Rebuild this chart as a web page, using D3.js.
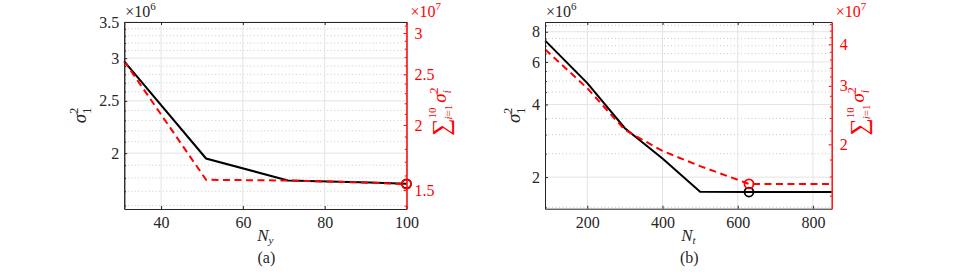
<!DOCTYPE html>
<html>
<head>
<meta charset="utf-8">
<script src="https://cdn.jsdelivr.net/npm/d3@7"></script>
<style>
  body { margin: 0; background: #fff; }
  svg text { font-family: "Liberation Serif", "DejaVu Serif", serif !important; }
</style>
</head>
<body>
<svg id="fig" width="955" height="272"></svg>
<script>
// ---- data ----
var nyVals = [31, 51, 71, 91, 100];
var sigma1A = [2.96e6, 1.955e6, 1.78e6, 1.765e6, 1.755e6];
var sumSigA = [2.65e7, 1.57e7, 1.565e7, 1.55e7, 1.54e7];
var pickA = 100;

var ntVals = [88, 200, 300, 400, 500, 630, 850];
var sigma1B = [7.35e6, 4.9e6, 3.19e6, 2.39e6, 1.74e6, 1.735e6, 1.735e6];
var sumSigB = [3.86e7, 2.95e7, 2.21e7, 1.91e7, 1.72e7, 1.52e7, 1.52e7];
var pickB = 630;

var xTicksA = [40, 60, 80, 100];
var yLTicksA = [2e6, 2.5e6, 3e6, 3.5e6];
var yRTicksA = [1.5e7, 2e7, 2.5e7, 3e7];
var xTicksB = [200, 400, 600, 800];
var yLTicksB = [2e6, 4e6, 6e6, 8e6];
var yRTicksB = [2e7, 3e7, 4e7];

var svg = d3.select("#fig");
var RED = "#ff0000", INK = "#262626";

function drawPanel(p) {
  var x = d3.scaleLinear().domain(p.xDom).range([p.left, p.right]);
  var yL = d3.scaleLog().domain(p.yLDom).range([p.bottom, p.top]);
  var yR = d3.scaleLog().domain(p.yRDom).range([p.bottom, p.top]);
  var g = svg.append("g");

  // grid
  g.selectAll(".gmin").data(p.yLMinor).enter().append("line")
    .attr("x1", p.left).attr("x2", p.right)
    .attr("y1", yL).attr("y2", yL)
    .attr("stroke", "#bdbdbd").attr("stroke-width", 0.8)
    .attr("stroke-dasharray", "1,2.5");
  g.selectAll(".gmaj").data(p.yLTicks).enter().append("line")
    .attr("x1", p.left).attr("x2", p.right)
    .attr("y1", yL).attr("y2", yL)
    .attr("stroke", "#e3e3e3").attr("stroke-width", 1);
  g.selectAll(".gx").data(p.xTicks).enter().append("line")
    .attr("x1", x).attr("x2", x)
    .attr("y1", p.top).attr("y2", p.bottom)
    .attr("stroke", "#e3e3e3").attr("stroke-width", 1);

  // lines
  var idx = d3.range(p.xs.length);
  g.append("path")
    .datum(idx)
    .attr("fill", "none").attr("stroke", "#000").attr("stroke-width", 2)
    .attr("d", d3.line().x(function(i) { return x(p.xs[i]); }).y(function(i) { return yL(p.left1[i]); }));
  g.append("path")
    .datum(idx)
    .attr("fill", "none").attr("stroke", RED).attr("stroke-width", 2)
    .attr("stroke-dasharray", "7,4.5")
    .attr("d", d3.line().x(function(i) { return x(p.xs[i]); }).y(function(i) { return yR(p.right1[i]); }));

  // selected markers
  var k = p.xs.indexOf(p.pick);
  g.append("circle")
    .attr("cx", x(p.pick)).attr("cy", yL(p.left1[k])).attr("r", 4.5)
    .attr("fill", "none").attr("stroke", "#000").attr("stroke-width", 1.8);
  g.append("circle")
    .attr("cx", x(p.pick)).attr("cy", yR(p.right1[k])).attr("r", 4.5)
    .attr("fill", "none").attr("stroke", RED).attr("stroke-width", 1.8);

  // axes
  var fmt = function(s) { return function(d) { return String(+(d / s).toFixed(2)); }; };
  function style(sel, col) {
    sel.attr("font-family", null);
    sel.selectAll("path").attr("stroke", col);
    sel.selectAll("line").attr("stroke", col);
    sel.selectAll("text").attr("fill", col).attr("font-size", 16);
  }

  var bx = g.append("g").attr("transform", "translate(0," + p.bottom + ")")
    .call(d3.axisBottom(x).tickValues(p.xTicks).tickSizeInner(-3).tickSizeOuter(0).tickPadding(8).tickFormat(d3.format("d")));
  style(bx, INK);
  var tx = g.append("g").attr("transform", "translate(0," + p.top + ")")
    .call(d3.axisTop(x).tickValues(p.xTicks).tickSizeInner(-3).tickSizeOuter(0).tickFormat(""));
  style(tx, INK);

  var ly = g.append("g").attr("transform", "translate(" + p.left + ",0)")
    .call(d3.axisLeft(yL).tickValues(p.yLTicks).tickSizeInner(-3).tickSizeOuter(0).tickPadding(5).tickFormat(fmt(1e6)));
  style(ly, INK);
  var lym = g.append("g").attr("transform", "translate(" + p.left + ",0)")
    .call(d3.axisLeft(yL).tickValues(p.yLMinor).tickSizeInner(-1.8).tickSizeOuter(0).tickFormat(""));
  style(lym, INK);

  var ry = g.append("g").attr("transform", "translate(" + p.right + ",0)")
    .call(d3.axisRight(yR).tickValues(p.yRTicks).tickSizeInner(-3).tickSizeOuter(0).tickPadding(8).tickFormat(fmt(1e7)));
  style(ry, RED);
  var rym = g.append("g").attr("transform", "translate(" + p.right + ",0)")
    .call(d3.axisRight(yR).tickValues(p.yRMinor).tickSizeInner(-1.8).tickSizeOuter(0).tickFormat(""));
  style(rym, RED);

  // exponent notes
  var e1 = g.append("text").attr("x", p.left + 1).attr("y", 17).attr("font-size", 16).attr("fill", INK);
  e1.append("tspan").text("\u00d710");
  e1.append("tspan").attr("dy", -7).attr("font-size", 11).text("6");
  var e2 = g.append("text").attr("x", p.right + 4).attr("y", 17).attr("font-size", 16).attr("fill", RED);
  e2.append("tspan").text("\u00d710");
  e2.append("tspan").attr("dy", -7).attr("font-size", 11).text("7");

  // x label and panel tag
  var cx = (p.left + p.right) / 2;
  var xl = g.append("text").attr("x", cx).attr("y", 241).attr("text-anchor", "middle")
    .attr("font-size", 17).attr("fill", INK);
  xl.append("tspan").attr("font-style", "italic").text("N");
  xl.append("tspan").attr("font-style", "italic").attr("font-size", 11).attr("dy", 3).text(p.sub);
  g.append("text").attr("x", cx + 1).attr("y", 263).attr("text-anchor", "middle")
    .attr("font-size", 16).attr("fill", INK).text(p.tag);

  // left y label: sigma_1^2
  var cy = (p.top + p.bottom) / 2;
  var yl = g.append("text").attr("text-anchor", "middle").attr("font-size", 19).attr("fill", INK)
    .attr("transform", "translate(" + p.yLabX + "," + cy + ") rotate(-90)");
  yl.append("tspan").attr("font-style", "italic").text("\u03c3");
  yl.append("tspan").attr("font-size", 12).attr("dy", -8).text("2");
  yl.append("tspan").attr("font-size", 12).attr("dx", -6).attr("dy", 13).text("1");

  // right y label: sum_{i=1}^{10} sigma_i^2
  var yr = g.append("text").attr("text-anchor", "middle").attr("font-size", 19).attr("fill", RED)
    .attr("transform", "translate(" + p.yRLabX + "," + (cy - 4) + ") rotate(-90)");
  yr.append("tspan").attr("font-size", 24).attr("dy", 3).text("\u2211");
  yr.append("tspan").attr("font-size", 11).attr("dy", -13).text("10");
  yr.append("tspan").attr("font-size", 11).attr("dx", -12).attr("dy", 16).attr("font-style", "italic").text("i");
  yr.append("tspan").attr("font-size", 11).text("=1");
  yr.append("tspan").attr("font-style", "italic").attr("dx", 2).attr("dy", -6).text("\u03c3");
  yr.append("tspan").attr("font-size", 12).attr("dy", -8).text("2");
  yr.append("tspan").attr("font-size", 12).attr("font-style", "italic").attr("dx", -6).attr("dy", 13).text("i");
}

drawPanel({
  left: 124.25, right: 406.5, top: 22, bottom: 209,
  xDom: [31, 100], yLDom: [1.576e6, 3.5e6], yRDom: [1.38e7, 3.15e7],
  xs: nyVals, left1: sigma1A, right1: sumSigA, pick: pickA,
  xTicks: xTicksA, yLTicks: yLTicksA, yRTicks: yRTicksA,
  yLMinor: d3.range(16, 35).filter(function(v) { return v % 5; }).map(function(v) { return v * 1e5; }),
  yRMinor: d3.range(14, 32).filter(function(v) { return v % 5; }).map(function(v) { return v * 1e6; }),
  sub: "y", tag: "(a)", yLabX: 86, yRLabX: 446
});

drawPanel({
  left: 545, right: 831.7, top: 22, bottom: 208.7,
  xDom: [87.5, 850], yLDom: [1.48e6, 8.78e6], yRDom: [1.28e7, 4.67e7],
  xs: ntVals, left1: sigma1B, right1: sumSigB, pick: pickB,
  xTicks: xTicksB, yLTicks: yLTicksB, yRTicks: yRTicksB,
  yLMinor: [1.5, 2.5, 3, 3.5, 4.5, 5, 5.5, 6.5, 7, 7.5, 8.5].map(function(v) { return v * 1e6; }),
  yRMinor: d3.range(14, 47, 2).filter(function(v) { return v % 10; }).map(function(v) { return v * 1e6; }),
  sub: "t", tag: "(b)", yLabX: 520, yRLabX: 864
});
</script>
</body>
</html>
